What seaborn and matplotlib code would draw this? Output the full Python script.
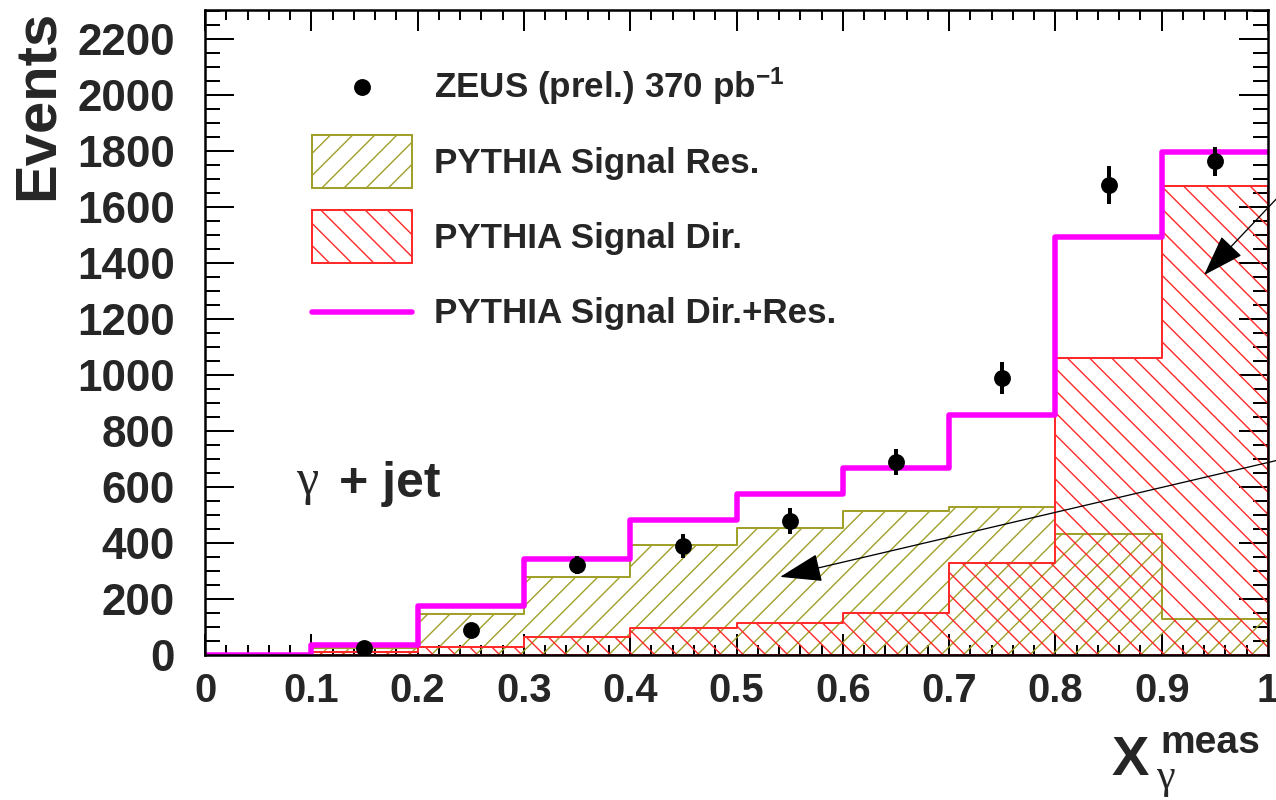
import numpy as np
import pandas as pd
import matplotlib
matplotlib.use("Agg")
import matplotlib.pyplot as plt
from matplotlib.patches import Patch
from matplotlib.lines import Line2D
from matplotlib.legend_handler import HandlerLine2D
from matplotlib.ticker import MultipleLocator, FuncFormatter
import seaborn as sns

# ---- data -------------------------------------------------------------
bin_edges = [0.0, 0.1, 0.2, 0.3, 0.4, 0.5, 0.6, 0.7, 0.8, 0.9, 1.0]
bin_centers = [0.05, 0.15, 0.25, 0.35, 0.45, 0.55, 0.65, 0.75, 0.85, 0.95]
res_events = [0, 25, 147, 279, 394, 454, 515, 530, 433, 127]
dir_events = [0, 10, 30, 64, 97, 115, 150, 329, 1061, 1675]
sum_events = [0, 35, 175, 343, 483, 576, 669, 858, 1492, 1798]

data_x = [0.15, 0.25, 0.35, 0.45, 0.55, 0.65, 0.75, 0.85, 0.95]
data_y = [25, 89, 322, 390, 479, 690, 991, 1678, 1764]
data_err = [15, 25, 32, 43, 47, 46, 57, 68, 52]

x_ticks = [0.0, 0.1, 0.2, 0.3, 0.4, 0.5, 0.6, 0.7, 0.8, 0.9, 1.0]
y_ticks = [0, 200, 400, 600, 800, 1000, 1200, 1400, 1600, 1800, 2000, 2200]

legend_labels = ["ZEUS (prel.) 370 pb$^{-1}$", "PYTHIA Signal Res.",
                 "PYTHIA Signal Dir.", "PYTHIA Signal Dir.+Res."]

# arrow heads (data coords) and tails (figure pixels)
arrow_heads = [(0.9398, 1357), (0.541, 279)]
arrow_tails = [(1300, 626), (1300, 345)]

# ---- style ------------------------------------------------------------
DPI = 133
W, H = 1276, 800


def px(v):
    """pixels -> points"""
    return v * 72.0 / DPI


OLIVE = "#a0a02a"
RED = "#ff2a2a"
MAGENTA = "#ff00ff"

sns.set_style("ticks")
plt.rcParams["font.family"] = ["Liberation Sans", "DejaVu Sans"]
plt.rcParams["font.weight"] = "bold"
plt.rcParams["mathtext.fontset"] = "custom"
plt.rcParams["mathtext.rm"] = "Liberation Sans:bold"
plt.rcParams["mathtext.bf"] = "Liberation Sans:bold"
plt.rcParams["mathtext.it"] = "Liberation Sans:bold:italic"
plt.rcParams["mathtext.default"] = "rm"
plt.rcParams["hatch.linewidth"] = px(1.4)

fig = plt.figure(figsize=(W / DPI, H / DPI), dpi=DPI)
fig.patch.set_facecolor("white")
ax = fig.add_axes([205 / W, 1 - 655 / H, (1268 - 205) / W, (655 - 10) / H])

hist_df = pd.DataFrame({"x": bin_centers, "res": res_events,
                        "dir": dir_events, "sum": sum_events})

sns.histplot(data=hist_df, x="x", weights="res", bins=bin_edges,
             element="step", fill=True, color=OLIVE, facecolor="none",
             edgecolor=OLIVE, hatch="//", linewidth=px(2), ax=ax)
sns.histplot(data=hist_df, x="x", weights="dir", bins=bin_edges,
             element="step", fill=True, color=RED, facecolor="none",
             edgecolor=RED, hatch="\\\\", linewidth=px(2), ax=ax)
sns.histplot(data=hist_df, x="x", weights="sum", bins=bin_edges,
             element="step", fill=False, color=MAGENTA,
             linewidth=px(5.5), ax=ax)

ax.errorbar(data_x, data_y, yerr=data_err, fmt="o", color="black",
            ms=px(15), elinewidth=px(4), capsize=0, zorder=5)

# ---- axes -------------------------------------------------------------
ax.set_xlim(0, 1)
ax.set_ylim(0, 2304)
ax.set_xlabel("")
ax.set_ylabel("")
ax.set_xticks(x_ticks)
ax.set_yticks(y_ticks)
ax.xaxis.set_minor_locator(MultipleLocator(0.02))
ax.yaxis.set_minor_locator(MultipleLocator(50))
ax.xaxis.set_major_formatter(FuncFormatter(lambda v, p: f"{v:g}"))
for s in ax.spines.values():
    s.set_visible(True)
    s.set_linewidth(px(2.5))
    s.set_color("black")

ax.tick_params(which="both", direction="in", top=True, right=True,
               width=px(2), color="black")
ax.tick_params(axis="x", which="major", length=px(21), pad=px(17),
               labelsize=px(40))
ax.tick_params(axis="x", which="minor", length=px(10))
ax.tick_params(axis="y", which="major", length=px(29), pad=px(30),
               labelsize=px(44))
ax.tick_params(axis="y", which="minor", length=px(15))
for lab in ax.get_xticklabels() + ax.get_yticklabels():
    lab.set_fontweight("bold")


# ---- legend -----------------------------------------------------------
class CenteredLineHandler(HandlerLine2D):
    """Place line/marker handles at the vertical centre of the handle box."""

    def create_artists(self, legend, orig_handle, xdescent, ydescent,
                       width, height, fontsize, trans):
        return super().create_artists(legend, orig_handle, xdescent,
                                      2 * ydescent, width, height,
                                      fontsize, trans)


handles = [
    Line2D([], [], marker="o", ls="none", color="black", ms=px(15)),
    Patch(facecolor="none", edgecolor=OLIVE, hatch="//", lw=px(2)),
    Patch(facecolor="none", edgecolor=RED, hatch="\\\\", lw=px(2)),
    Line2D([], [], color=MAGENTA, lw=px(5.5)),
]
fs = 35
box_h = 53
hh = (box_h / fs - 0.245) / 0.65
ax.legend(handles, legend_labels, loc="upper left",
          bbox_to_anchor=((312 - 205) / 1063, (655 - 60) / 645),
          frameon=False, borderpad=0, borderaxespad=0,
          handlelength=100 / fs, handleheight=hh,
          handletextpad=22 / fs, labelspacing=22 / fs,
          handler_map={Line2D: CenteredLineHandler()},
          prop={"family": "Liberation Sans", "weight": "bold", "size": px(fs)})

# ---- annotations ------------------------------------------------------
for head, tail in zip(arrow_heads, arrow_tails):
    ax.annotate("", xy=head, xycoords="data", xytext=tail,
                textcoords="figure pixels",
                arrowprops=dict(arrowstyle="-|>,head_length=3.7,head_width=1.25",
                                mutation_scale=px(10), lw=px(1.3),
                                color="black", shrinkA=0, shrinkB=0),
                annotation_clip=False)

fig.text(38 / W, 1 - 105 / H, "Events", rotation=90, ha="center",
         va="center", fontsize=px(58), fontweight="bold")

fig.text(296 / W, 1 - 494 / H, "γ", family="Liberation Serif",
         fontweight="normal", fontsize=px(50), ha="left", va="baseline")
fig.text(339 / W, 1 - 497 / H, "+ jet", fontsize=px(50),
         fontweight="bold", ha="left", va="baseline")

fig.text(1111 / W, 1 - 775 / H, "X", fontsize=px(56), fontweight="bold",
         ha="left", va="baseline")
fig.text(1160 / W, 1 - 753 / H, "meas", fontsize=px(39), fontweight="bold",
         ha="left", va="baseline")
fig.text(1156 / W, 1 - 788 / H, "γ", family="Liberation Serif",
         fontweight="normal", fontsize=px(42), ha="left", va="baseline")

fig.savefig("out.png", dpi=DPI, facecolor="white")
